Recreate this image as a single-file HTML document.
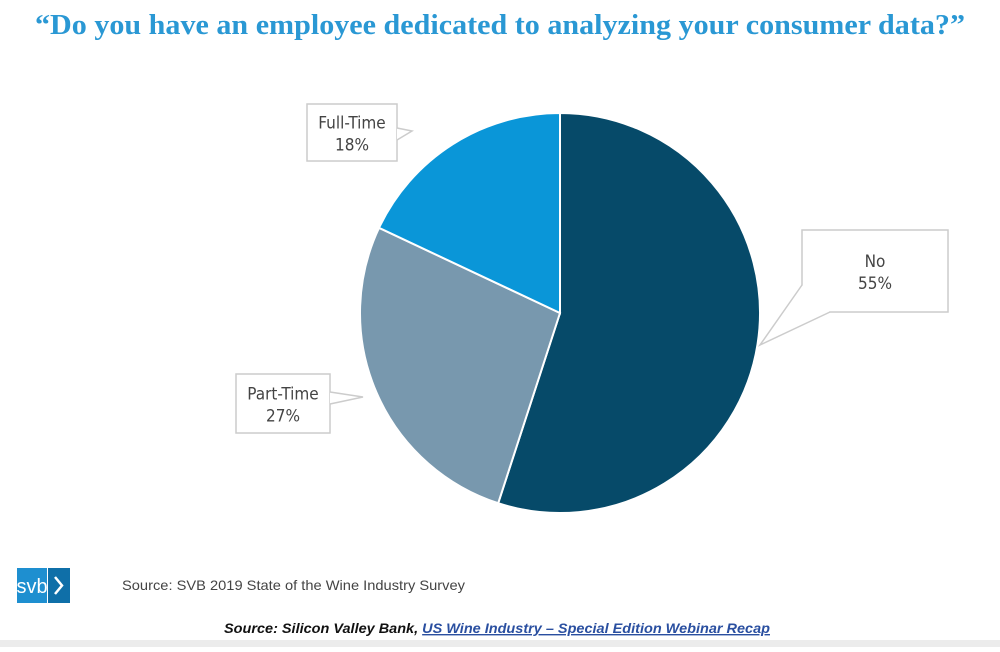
<!DOCTYPE html>
<html><head><meta charset="utf-8"><style>
body{margin:0;width:1000px;height:647px;background:#fff;overflow:hidden;font-family:"Liberation Sans",sans-serif}
</style></head><body>
<svg id="c" width="1000" height="647" xmlns="http://www.w3.org/2000/svg">
<text x="35" y="34" textLength="930" lengthAdjust="spacingAndGlyphs" font-family="Liberation Serif, serif" font-weight="bold" font-size="29" fill="#2a98d4">“Do you have an employee dedicated to analyzing your consumer data?”</text>
<g id="slices"></g>
<g id="labels"></g>
<g>
<rect x="17" y="568" width="30" height="35" fill="#1e8fd0"/>
<rect x="48" y="568" width="22" height="35" fill="#0f6fa8"/>
<text x="32" y="593" text-anchor="middle" font-size="20" fill="#fff">svb</text>
<polyline points="55,577 62,585.5 55,594" fill="none" stroke="#fff" stroke-width="2.5"/>
</g>
<text x="122" y="590" textLength="343" lengthAdjust="spacingAndGlyphs" font-size="14" fill="#444">Source: SVB 2019 State of the Wine Industry Survey</text>
<text x="224" y="633" textLength="546" lengthAdjust="spacingAndGlyphs" font-size="14" font-style="italic" font-weight="bold" fill="#111">Source: Silicon Valley Bank, <tspan fill="#2a4fa0" text-decoration="underline">US Wine Industry – Special Edition Webinar Recap</tspan></text>
<rect x="0" y="640" width="1000" height="7" fill="#ececec"/>
</svg>
<script>
const categories=["No","Part-Time","Full-Time"];
const values=[55,27,18];
const colors=["#064a69","#7898ae","#0a96d8"];
const cx=560,cy=313,r=200;
const NS="http://www.w3.org/2000/svg";
const total=values.reduce((a,b)=>a+b,0);
function pt(frac,rad){const a=frac*2*Math.PI;return [cx+rad*Math.sin(a),cy-rad*Math.cos(a)];}
const g=document.getElementById('slices');
let acc=0;
values.forEach((v,i)=>{
 const f0=acc/total,f1=(acc+v)/total;acc+=v;
 const p0=pt(f0,r),p1=pt(f1,r);
 const large=(f1-f0)>0.5?1:0;
 const p=document.createElementNS(NS,'path');
 p.setAttribute('d',`M${cx},${cy}L${p0[0]},${p0[1]}A${r},${r} 0 ${large} 1 ${p1[0]},${p1[1]}Z`);
 p.setAttribute('fill',colors[i]);p.setAttribute('stroke','#fff');p.setAttribute('stroke-width','2');
 
 
 g.appendChild(p);
});
const boxes=[
 {x:802,y:230,w:146,h:82,tip:[760,345],b1:[802,285],b2:[830,312],fs:17},
 {x:236,y:374,w:94,h:59,tip:[363,397],b1:[330,392],b2:[330,404],fs:17},
 {x:307,y:104,w:90,h:57,tip:[412,131],b1:[397,128],b2:[397,140],fs:17}
];
const lg=document.getElementById('labels');
boxes.forEach((b,i)=>{
 const grp=document.createElementNS(NS,'g');
 
 
 const rc=document.createElementNS(NS,'rect');
 rc.setAttribute('x',b.x);rc.setAttribute('y',b.y);rc.setAttribute('width',b.w);rc.setAttribute('height',b.h);
 rc.setAttribute('fill','#fff');rc.setAttribute('stroke','#ccc');rc.setAttribute('stroke-width','1.5');
 grp.appendChild(rc);
 const pl=document.createElementNS(NS,'polyline');
 pl.setAttribute('points',`${b.b1[0]},${b.b1[1]} ${b.tip[0]},${b.tip[1]} ${b.b2[0]},${b.b2[1]}`);
 pl.setAttribute('fill','#fff');pl.setAttribute('stroke','#ccc');pl.setAttribute('stroke-width','1.5');
 grp.appendChild(pl);
 const lines=[categories[i],Math.round(values[i]/total*100)+'%'];
 lines.forEach((t,j)=>{
  const tx=document.createElementNS(NS,'text');
  tx.setAttribute('x',b.x+b.w/2);tx.setAttribute('y',b.y+b.h/2-4+j*22);
  tx.setAttribute('text-anchor','middle');tx.setAttribute('font-size',b.fs);tx.setAttribute('fill','#444');
  tx.setAttribute('font-family','DejaVu Sans Condensed, Liberation Sans, sans-serif');
  tx.textContent=t;grp.appendChild(tx);
 });
 lg.appendChild(grp);
});
</script>
</body></html>
